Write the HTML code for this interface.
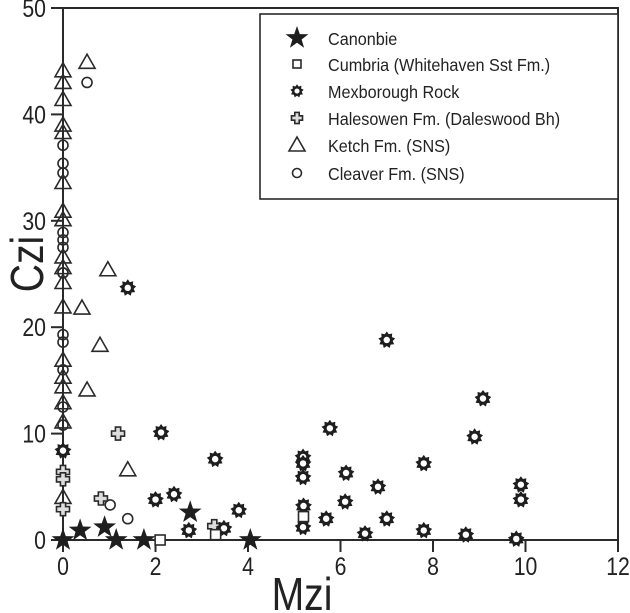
<!DOCTYPE html>
<html><head><meta charset="utf-8">
<style>
html,body{margin:0;padding:0;background:#fff;}
svg{display:block;font-family:"Liberation Sans",Arial,sans-serif;}
</style></head>
<body>
<svg id="chart" width="630" height="613" viewBox="0 0 630 613">
  <g id="axes"></g>
  <g id="marks"></g>
  <g id="legend"></g>
</svg>
<script>
const xTicks = [0, 2, 4, 6, 8, 10, 12];
const yTicks = [0, 10, 20, 30, 40, 50];
const seriesNames = ["Canonbie", "Cumbria (Whitehaven Sst Fm.)", "Mexborough Rock", "Halesowen Fm. (Daleswood Bh)", "Ketch Fm. (SNS)", "Cleaver Fm. (SNS)"];
const canonbieX = [0, 0.37, 0.9, 1.15, 1.75, 2.75, 4.05];
const canonbieY = [0, 0.9, 1.2, 0, 0, 2.6, 0];
const cumbriaX = [2.1, 3.3, 5.2];
const cumbriaY = [0, 0.5, 2.2];
const mexX = [1.4, 2.12, 0, 2.0, 2.4, 2.72, 3.29, 3.48, 3.8, 7.0, 9.08, 8.9, 5.77, 5.19, 5.19, 5.19, 6.12, 7.8, 6.81, 9.9, 9.9, 6.1, 5.2, 5.69, 7.0, 5.19, 6.53, 7.8, 8.71, 9.8];
const mexY = [23.7, 10.1, 8.4, 3.8, 4.3, 0.9, 7.6, 1.1, 2.8, 18.8, 13.3, 9.7, 10.5, 7.8, 7.2, 5.9, 6.3, 7.2, 5.0, 5.2, 3.8, 3.6, 3.2, 2.0, 2.0, 1.2, 0.6, 0.9, 0.5, 0.1];
const halesX = [0, 0, 0, 1.19, 0.82, 3.27];
const halesY = [6.4, 5.7, 2.9, 10.0, 3.9, 1.3];
const ketchX = [0,0,0,0,0,0,0,0,0,0,0,0,0,0,0,0,0,0, 0.52, 0.97, 0.41, 0.8, 0.52, 1.4];
const ketchY = [44.1, 43.0, 41.4, 39.0, 38.3, 33.6, 30.9, 30.1, 26.6, 25.6, 24.2, 21.9, 16.9, 15.3, 14.4, 12.9, 11.1, 4.0, 44.9, 25.4, 21.8, 18.3, 14.1, 6.6];
const cleaverX = [0,0,0,0,0,0,0,0,0,0,0,0,0, 0.52, 1.02, 1.4];
const cleaverY = [37.1, 35.4, 34.5, 28.9, 28.2, 27.5, 25.1, 19.3, 18.6, 16.0, 12.5, 10.8, 25.1, 43.0, 3.3, 2.0];

const X0 = 63, X1 = 618, Y0 = 540, Y1 = 8;
const sx = v => X0 + (v - 0) / 12 * (X1 - X0);
const sy = v => Y0 - (v - 0) / 50 * (Y0 - Y1);
const NS = "http://www.w3.org/2000/svg";
function mk(tag, attrs, parent) {
  const e = document.createElementNS(NS, tag);
  for (const k in attrs) e.setAttribute(k, attrs[k]);
  parent.appendChild(e);
  return e;
}
const axes = document.getElementById('axes');
const marks = document.getElementById('marks');
const legend = document.getElementById('legend');
const stroke = {stroke: '#2a2a2a', 'stroke-width': 2, fill: 'none'};

let fr = mk('path', Object.assign({d: `M${X0},${Y1} H${X1} V${Y0} M${X0},${Y1} V${Y0} H${X1}`}, stroke), axes);


xTicks.forEach(t => {
  const l = mk('line', Object.assign({x1: sx(t), x2: sx(t), y1: Y0, y2: Y0 + 12}, stroke), axes);
  
  
  const tx = mk('text', {x: 0, y: 0, 'text-anchor': 'middle', 'font-size': 25, fill: '#222', transform: `translate(${sx(t)},${Y0 + 35}) scale(0.85,1)`}, axes);
  tx.textContent = t;
  
  
});
yTicks.forEach(t => {
  const l = mk('line', Object.assign({x1: X0 - 12, x2: X0, y1: sy(t), y2: sy(t)}, stroke), axes);
  
  
  const tx = mk('text', {x: 0, y: 0, 'text-anchor': 'end', 'font-size': 25, fill: '#222', transform: `translate(${X0 - 17},${sy(t) + 9}) scale(0.85,1)`}, axes);
  tx.textContent = t;
  
  
});
const xt = mk('text', {x: 0, y: 0, 'text-anchor': 'middle', 'font-size': 46, fill: '#222', transform: 'translate(302,610) scale(0.85,1)'}, axes);
xt.textContent = 'Mzi';


const yt = mk('text', {x: 0, y: 0, 'text-anchor': 'middle', 'font-size': 46, fill: '#222', transform: 'translate(43,264) rotate(-90) scale(0.85,1)'}, axes);
yt.textContent = 'Czi';



function starPts(cx, cy, n, ro, ri) {
  const p = [];
  for (let i = 0; i < 2 * n; i++) {
    const a = -Math.PI / 2 + i * Math.PI / n;
    const r = i % 2 ? ri : ro;
    p.push((cx + r * Math.cos(a)).toFixed(1) + ',' + (cy + r * Math.sin(a)).toFixed(1));
  }
  return p.join(' ');
}
function drawMarker(type, cx, cy, parent, s) {
  s = s || 1;
  const g = mk('g', {}, parent);
  if (type === 0) {
    mk('polygon', {points: starPts(cx, cy, 5, 12 * s, 4.8 * s), fill: '#1e1e1e'}, g);
  } else if (type === 1) {
    mk('rect', {x: cx - 5 * s, y: cy - 5 * s, width: 10 * s, height: 10 * s, fill: '#fff', stroke: '#2a2a2a', 'stroke-width': 1.6}, g);
  } else if (type === 2) {
    mk('polygon', {points: starPts(cx, cy, 9, 8.5 * s, 6 * s), fill: '#1e1e1e'}, g);
    mk('circle', {cx: cx, cy: cy, r: 3.2 * s, fill: '#fff'}, g);
  } else if (type === 3) {
    const a = 2.6 * s, b = 6.5 * s;
    mk('polygon', {points: `${cx-a},${cy-b} ${cx+a},${cy-b} ${cx+a},${cy-a} ${cx+b},${cy-a} ${cx+b},${cy+a} ${cx+a},${cy+a} ${cx+a},${cy+b} ${cx-a},${cy+b} ${cx-a},${cy+a} ${cx-b},${cy+a} ${cx-b},${cy-a} ${cx-a},${cy-a}`, fill: '#ddd', stroke: '#2a2a2a', 'stroke-width': 1.6}, g);
  } else if (type === 4) {
    mk('polygon', {points: `${cx},${cy-8*s} ${cx+8*s},${cy+6*s} ${cx-8*s},${cy+6*s}`, fill: 'none', stroke: '#2a2a2a', 'stroke-width': 1.6}, g);
  } else {
    mk('circle', {cx: cx, cy: cy, r: 5 * s, fill: 'none', stroke: '#2a2a2a', 'stroke-width': 1.6}, g);
  }
  return g;
}
const series = [[cleaverX, cleaverY, 5, 'cleaver-point'], [ketchX, ketchY, 4, 'ketch-point'], [halesX, halesY, 3, 'halesowen-point'], [mexX, mexY, 2, 'mexborough-point'], [cumbriaX, cumbriaY, 1, 'cumbria-point'], [canonbieX, canonbieY, 0, 'canonbie-point']];
series.forEach(([xs, ys, t, nm]) => {
  xs.forEach((x, i) => {
    const g = drawMarker(t, sx(x), sy(ys[i]), marks);
    
    
  });
});

const lb = mk('rect', {x: 260, y: 14, width: 358, height: 185, fill: '#fff', stroke: '#2a2a2a', 'stroke-width': 1.6}, legend);


const rowY = [38, 64, 91, 118, 145, 173];
const legScale = [1, 0.8, 0.8, 0.85, 1, 0.9];
seriesNames.forEach((n, i) => {
  const g = mk('g', {}, legend);
  
  
  drawMarker(i, 297, rowY[i], g, legScale[i]);
  const t = mk('text', {x: 0, y: 0, 'font-size': 18, fill: '#222', transform: `translate(328,${rowY[i] + 7}) scale(0.9,1)`}, g);
  t.textContent = n;
});
</script>
</body></html>
